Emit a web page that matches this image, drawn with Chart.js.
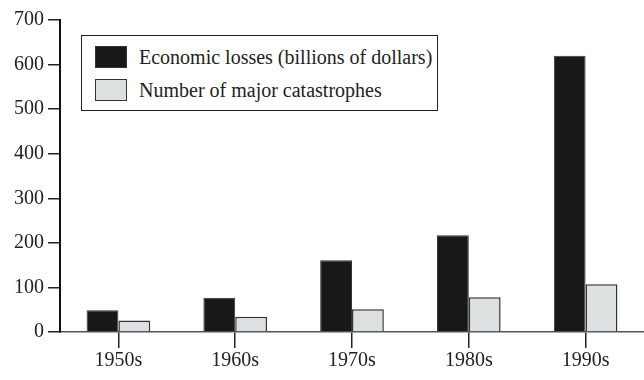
<!DOCTYPE html>
<html>
<head>
<meta charset="utf-8">
<script src="https://cdn.jsdelivr.net/npm/chart.js@4"></script>
<style>
  html, body { margin: 0; padding: 0; background: #fff; overflow: hidden; }
  #wrap { position: relative; width: 644px; height: 380px; }
  #legend {
    position: absolute; left: 81px; top: 35px; width: 355px; height: 74px;
    border: 1.5px solid #222; background: #fff;
    font-family: "Liberation Serif", serif; font-size: 20px; color: #222;
  }
  #legend .row { position: absolute; left: 13px; height: 22px; display: flex; align-items: center; }
  #legend .box { width: 30px; height: 20px; border: 1px solid #333; margin-right: 12px; }
</style>
</head>
<body>
<div id="wrap">
  <canvas id="chart" width="644" height="380"></canvas>
  <div id="legend"></div>
</div>
<script>
const decades = ["1950s", "1960s", "1970s", "1980s", "1990s"];
const losses = [49, 77, 161, 217, 620];
const catastrophes = [26, 34, 51, 78, 107];
const yMax = 700;
const yStep = 100;

const seriesNames = ["Economic losses (billions of dollars)", "Number of major catastrophes"];
const seriesColors = ["#181818", "#dde0e0"];

Chart.defaults.font.family = "'Liberation Serif', serif";
Chart.defaults.font.size = 20;
Chart.defaults.color = "#222";

const ctx = document.getElementById("chart").getContext("2d");
const chart = new Chart(ctx, {
  type: "bar",
  data: {
    labels: decades,
    datasets: [
      { label: seriesNames[0], data: losses, backgroundColor: seriesColors[0], borderColor: "#333", borderWidth: 1 },
      { label: seriesNames[1], data: catastrophes, backgroundColor: seriesColors[1], borderColor: "#333", borderWidth: 1.5 },
    ],
  },
  options: {
    responsive: false,
    animation: false,
    // x axis runs slightly past the right edge of the canvas
    layout: { padding: { top: 20, right: -4, left: 0, bottom: 0 } },
    datasets: { bar: { barPercentage: 1, categoryPercentage: 0.545 } },
    plugins: { legend: { display: false }, tooltip: { enabled: false } },
    scales: {
      x: {
        afterFit: (scale) => { scale.height = 48; },
        border: { color: "#555", width: 1.5 },
        grid: { offset: false, drawOnChartArea: false, tickLength: 16, color: "#222", lineWidth: 1.5 },
        ticks: { padding: 1 },
      },
      y: {
        min: 0,
        max: yMax,
        afterFit: (scale) => { scale.width = 60; },
        border: { color: "#111", width: 2 },
        grid: { drawOnChartArea: false, tickLength: 12, color: "#222", lineWidth: 1.5 },
        ticks: { stepSize: yStep, padding: 4 },
      },
    },
  },
});

// legend built from the chart's own datasets
const legend = document.getElementById("legend");
chart.data.datasets.forEach((ds, i) => {
  const row = document.createElement("div");
  row.className = "row";
  row.style.top = (10 + i * 33) + "px";
  const box = document.createElement("span");
  box.className = "box";
  box.style.background = ds.backgroundColor;
  const txt = document.createElement("span");
  txt.textContent = ds.label;
  row.appendChild(box);
  row.appendChild(txt);
  legend.appendChild(row);
});
</script>
</body>
</html>
